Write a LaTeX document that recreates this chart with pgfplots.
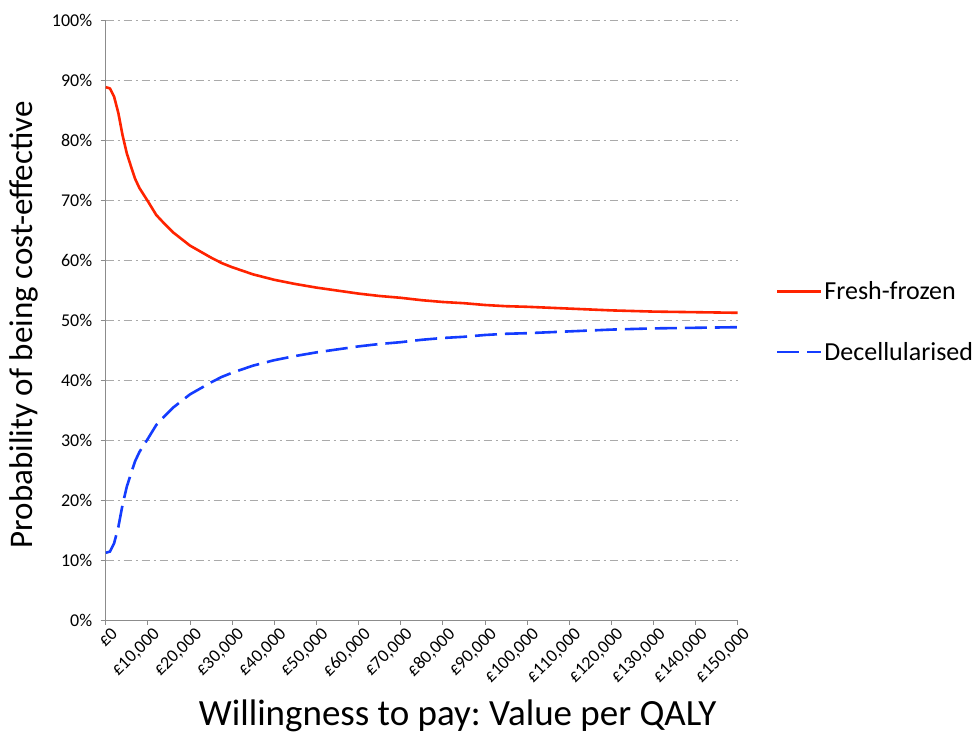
\documentclass[border=0pt]{standalone}
\usepackage{pgfplots}
\pgfplotsset{compat=1.18}
\usepackage{fontspec}
\setmainfont{Carlito}
\frenchspacing
\definecolor{ffred}{RGB}{255,35,0}
\definecolor{dcblue}{RGB}{20,60,255}
\definecolor{gridgray}{RGB}{170,170,170}
\definecolor{axgray}{RGB}{140,140,140}
\begin{document}
\begin{tikzpicture}
\path[use as bounding box] (0,0) rectangle (973pt,735pt);
\begin{axis}[
  at={(105.7pt,115pt)}, anchor=south west,
  width=632pt, height=600pt, scale only axis,
  xmin=0, xmax=150000, ymin=0, ymax=100,
  scaled x ticks=false,
  axis x line*=bottom, axis y line*=left,
  axis line style={axgray, line width=0.8pt, -},
  xtick={0,10000,...,150000},
  xticklabels={£0,{£10,000},{£20,000},{£30,000},{£40,000},{£50,000},{£60,000},{£70,000},{£80,000},{£90,000},{£100,000},{£110,000},{£120,000},{£130,000},{£140,000},{£150,000}},
  ytick={0,10,...,100},
  yticklabels={0\%,10\%,20\%,30\%,40\%,50\%,60\%,70\%,80\%,90\%,100\%},
  xticklabel style={rotate=45, anchor=north east, font=\fontsize{18}{20}\selectfont, inner sep=1pt, xshift=3pt, yshift=-3pt},
  yticklabel style={font=\fontsize{18}{20}\selectfont, xshift=-5pt},
  tick align=outside, major tick length=5pt,
  tick style={axgray, line width=0.8pt},
  ymajorgrids,
  grid style={gridgray, line width=0.8pt, dash pattern=on 8pt off 4pt on 2pt off 4pt},
  xlabel={Willingness to pay: Value per QALY},
  ylabel={Probability of being cost-effective},
  xlabel style={at={(axis description cs:0.557,-0.175)}, anchor=base, font=\fontsize{37}{40}\selectfont},
  ylabel style={at={(axis description cs:-0.13,0.492)}, anchor=center, font=\fontsize{33}{36}\selectfont},
  legend style={draw=none, fill=none, at={(1.06,0.497)}, anchor=west, font=\fontsize{26}{28}\selectfont, row sep=37pt, inner sep=0pt, cells={anchor=west}},
  legend image code/.code={\draw[#1] (0pt,0pt) -- (44pt,0pt);},
]
\addplot[ffred, line width=2.6pt, line join=round] coordinates {
(0,88.8) (1000,88.6) (2000,87.2) (3000,84.5) (4000,80.8) (5000,77.8) (6000,75.6) (7000,73.5) (8000,72.0) (9000,70.9) (10000,69.8) (12000,67.5) (14000,66.0) (16000,64.6) (18000,63.5) (20000,62.4) (22500,61.4) (25000,60.4) (27500,59.5) (30000,58.8) (35000,57.6) (40000,56.7) (45000,56.0) (50000,55.4) (55000,54.9) (60000,54.4) (65000,54.0) (70000,53.7) (75000,53.3) (80000,53.0) (85000,52.8) (90000,52.5) (95000,52.3) (100000,52.2) (110000,51.9) (120000,51.6) (130000,51.4) (140000,51.3) (150000,51.2)
};
\addlegendentry{Fresh-frozen}
\addplot[dcblue, line width=2.6pt, dash pattern=on 22pt off 8pt] coordinates {
(0,11.2) (1000,11.4) (2000,12.8) (3000,15.5) (4000,19.2) (5000,22.2) (6000,24.4) (7000,26.5) (8000,28.0) (9000,29.1) (10000,30.2) (12000,32.5) (14000,34.0) (16000,35.4) (18000,36.5) (20000,37.6) (22500,38.6) (25000,39.6) (27500,40.5) (30000,41.2) (35000,42.4) (40000,43.3) (45000,44.0) (50000,44.6) (55000,45.1) (60000,45.6) (65000,46.0) (70000,46.3) (75000,46.7) (80000,47.0) (85000,47.2) (90000,47.5) (95000,47.7) (100000,47.8) (110000,48.1) (120000,48.4) (130000,48.6) (140000,48.7) (150000,48.8)
};
\addlegendentry{Decellularised}
\end{axis}
\end{tikzpicture}
\end{document}
